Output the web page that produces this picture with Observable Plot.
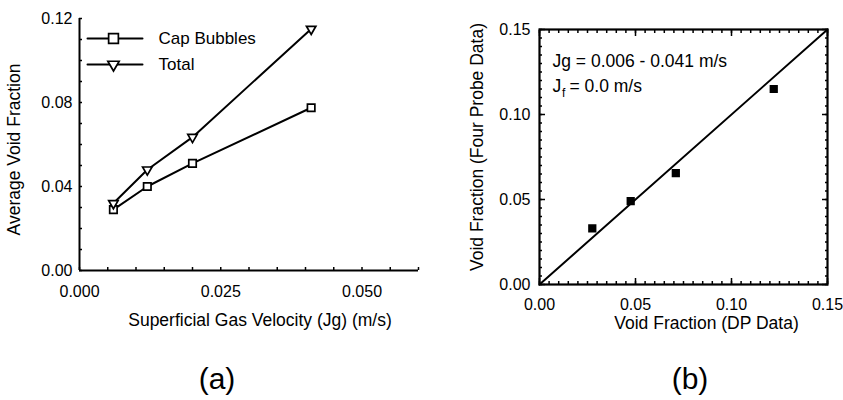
<!DOCTYPE html>
<html><head><meta charset="utf-8">
<script src="https://cdn.jsdelivr.net/npm/d3@7"></script>
<script src="https://cdn.jsdelivr.net/npm/@observablehq/plot@0.6"></script>
<style>
body{margin:0;background:#fff;}
#wrap{position:relative;width:843px;height:400px;overflow:hidden;font-family:"Liberation Sans",Arial,Helvetica,sans-serif;color:#000;}
#wrap svg{position:absolute;top:0;overflow:visible;background:transparent;}
.cap{position:absolute;font-size:30px;transform:translate(-50%,-50%);line-height:1;}
</style></head><body><div id="wrap"></div>
<script>
// ---- data: panel (a)
const jg = [0.006, 0.012, 0.020, 0.041];
const capBubbles = [0.029, 0.040, 0.051, 0.0775];
const totalVoid = [0.032, 0.048, 0.0635, 0.115];
const seriesNames = ["Cap Bubbles", "Total"];
const aXTicks = [0, 0.025, 0.05];
const aYTicks = [0, 0.04, 0.08, 0.12];
// ---- data: panel (b)
const dpVoid = [0.0275, 0.0475, 0.071, 0.122];
const probeVoid = [0.033, 0.049, 0.0655, 0.115];
const diagonal = [0, 0.15];
const bTicks = [0, 0.05, 0.10, 0.15];
const annotJg = "Jg = 0.006 - 0.041 m/s";
const annotJf = ["J", "f", "= 0.0 m/s"];
const labels = {
  aX: "Superficial Gas Velocity (Jg) (m/s)",
  aY: "Average Void Fraction",
  bX: "Void Fraction (DP Data)",
  bY: "Void Fraction (Four Probe Data)",
  a: "(a)", b: "(b)"
};

const FONT = '"Liberation Sans", Arial, Helvetica, sans-serif';
const wrap = document.getElementById("wrap");
const minorA_X = d3.range(0, 0.06001, 0.005);
const minorA_Y = d3.range(0, 0.12001, 0.01);
const minorB = d3.range(0, 0.15001, 0.005);
const hline = {draw(ctx, l) { ctx.moveTo(0, 0); ctx.lineTo(0, -l); }};
const blank = () => "";

const capRows = jg.map((x, i) => ({x, y: capBubbles[i]}));
const totRows = jg.map((x, i) => ({x, y: totalVoid[i]}));
const bRows = dpVoid.map((x, i) => ({x, y: probeVoid[i]}));

const SW = 2;
const TF = 17.5;
const plotA = Plot.plot({
  width: 420, height: 400,
  marginLeft: 79, marginRight: 2, marginTop: 18, marginBottom: 130,
  style: {fontFamily: FONT, fontSize: "16px", background: "transparent", color: "#000"},
  x: {domain: [0, 0.06]},
  y: {domain: [0, 0.12]},
  marks: [
    Plot.axisX(aXTicks, {tickSize: 0, tickPadding: 15, tickFormat: d3.format(".3f"), label: null, fontSize: 16}),
    Plot.axisX(minorA_X, {tickSize: -3, tickFormat: blank, label: null, strokeWidth: 1.5}),
    Plot.axisY(aYTicks, {tickSize: 0, tickPadding: 7, tickFormat: d3.format(".2f"), label: null, fontSize: 16}),
    Plot.axisY(minorA_Y, {tickSize: -3, tickFormat: blank, label: null, strokeWidth: 1.5}),
    Plot.ruleX([0], {strokeWidth: 2}),
    Plot.ruleY([0], {strokeWidth: 2}),
    Plot.line(capRows, {x: "x", y: "y", strokeWidth: SW}),
    Plot.line(totRows, {x: "x", y: "y", strokeWidth: SW}),
    Plot.dot(capRows, {x: "x", y: "y", symbol: "square", r: 4.2, fill: "white", stroke: "black", strokeWidth: 1.7}),
    Plot.dot(totRows, {x: "x", y: "y", symbol: "triangle", rotate: 180, r: 3.5, fill: "white", stroke: "black", strokeWidth: 1.7}),
    // legend
    ...seriesNames.flatMap((name, i) => [
      Plot.vector([name], {frameAnchor: "top-left", dx: 8, dy: 20 + 26 * i, length: 55, rotate: 90, anchor: "start", shape: hline, strokeWidth: SW}),
      Plot.dot([name], {frameAnchor: "top-left", dx: 34, dy: 20 + 26 * i, symbol: i === 0 ? "square" : "triangle", rotate: i === 0 ? 0 : 180, r: i === 0 ? 5.5 : 4.2, fill: "white", stroke: "black", strokeWidth: 1.7}),
      Plot.text([name], {frameAnchor: "top-left", dx: 79, dy: 20 + 26 * i, text: d => d, textAnchor: "start", lineAnchor: "middle", fontSize: 17})
    ]),
    // axis titles
    Plot.text([labels.aX], {frameAnchor: "bottom", dx: 11, dy: 50, text: d => d, textAnchor: "middle", lineAnchor: "middle", fontSize: TF}),
    Plot.text([labels.aY], {frameAnchor: "left", dx: -65, dy: 5, rotate: -90, text: d => d, textAnchor: "middle", lineAnchor: "middle", fontSize: TF})
  ]
});
plotA.style.left = "0px";
wrap.appendChild(plotA);

const plotB = Plot.plot({
  width: 423, height: 400,
  marginLeft: 119, marginRight: 16, marginTop: 29, marginBottom: 116,
  style: {fontFamily: FONT, fontSize: "16px", background: "transparent", color: "#000"},
  x: {domain: [0, 0.15]},
  y: {domain: [0, 0.15]},
  marks: [
    Plot.axisX(bTicks, {anchor: "bottom", tickSize: 0, tickPadding: 14, tickFormat: d3.format(".2f"), label: null, fontSize: 16}),
    Plot.axisY(bTicks, {anchor: "left", tickSize: 0, tickPadding: 9, tickFormat: d3.format(".2f"), label: null, fontSize: 16}),
    ...["bottom", "top"].flatMap(anchor => [
      Plot.axisX(minorB, {anchor, tickSize: -3, tickFormat: blank, label: null, strokeWidth: 1.5}),
      Plot.axisX(bTicks, {anchor, tickSize: -6, tickFormat: blank, label: null, strokeWidth: 1.5})
    ]),
    ...["left", "right"].flatMap(anchor => [
      Plot.axisY(minorB, {anchor, tickSize: -3, tickFormat: blank, label: null, strokeWidth: 1.5}),
      Plot.axisY(bTicks, {anchor, tickSize: -6, tickFormat: blank, label: null, strokeWidth: 1.5})
    ]),
    Plot.frame({strokeWidth: 2.2}),
    Plot.line(diagonal, {x: d => d, y: d => d, strokeWidth: SW}),
    Plot.dot(bRows, {x: "x", y: "y", symbol: "square", r: 3.8, fill: "black", stroke: "black"}),
    Plot.text([annotJg], {frameAnchor: "top-left", dx: 13, dy: 32, text: d => d, textAnchor: "start", lineAnchor: "middle", fontSize: 17.5}),
    Plot.text([annotJf[0]], {frameAnchor: "top-left", dx: 13, dy: 57, text: d => d, textAnchor: "start", lineAnchor: "middle", fontSize: 17.5}),
    Plot.text([annotJf[1]], {frameAnchor: "top-left", dx: 22.5, dy: 64, text: d => d, textAnchor: "start", lineAnchor: "middle", fontSize: 12}),
    Plot.text([annotJf[2]], {frameAnchor: "top-left", dx: 30, dy: 57, text: d => d, textAnchor: "start", lineAnchor: "middle", fontSize: 17.5}),
    Plot.text([labels.bX], {frameAnchor: "bottom", dx: 23, dy: 39, text: d => d, textAnchor: "middle", lineAnchor: "middle", fontSize: TF}),
    Plot.text([labels.bY], {frameAnchor: "left", dx: -62, dy: -10, rotate: -90, text: d => d, textAnchor: "middle", lineAnchor: "middle", fontSize: TF})
  ]
});
plotB.style.left = "420px";
wrap.appendChild(plotB);

for (const [t, x] of [[labels.a, 217], [labels.b, 690]]) {
  const d = document.createElement("div");
  d.className = "cap";
  d.textContent = t;
  d.style.left = x + "px";
  d.style.top = "379px";
  wrap.appendChild(d);
}
</script>
</body></html>
